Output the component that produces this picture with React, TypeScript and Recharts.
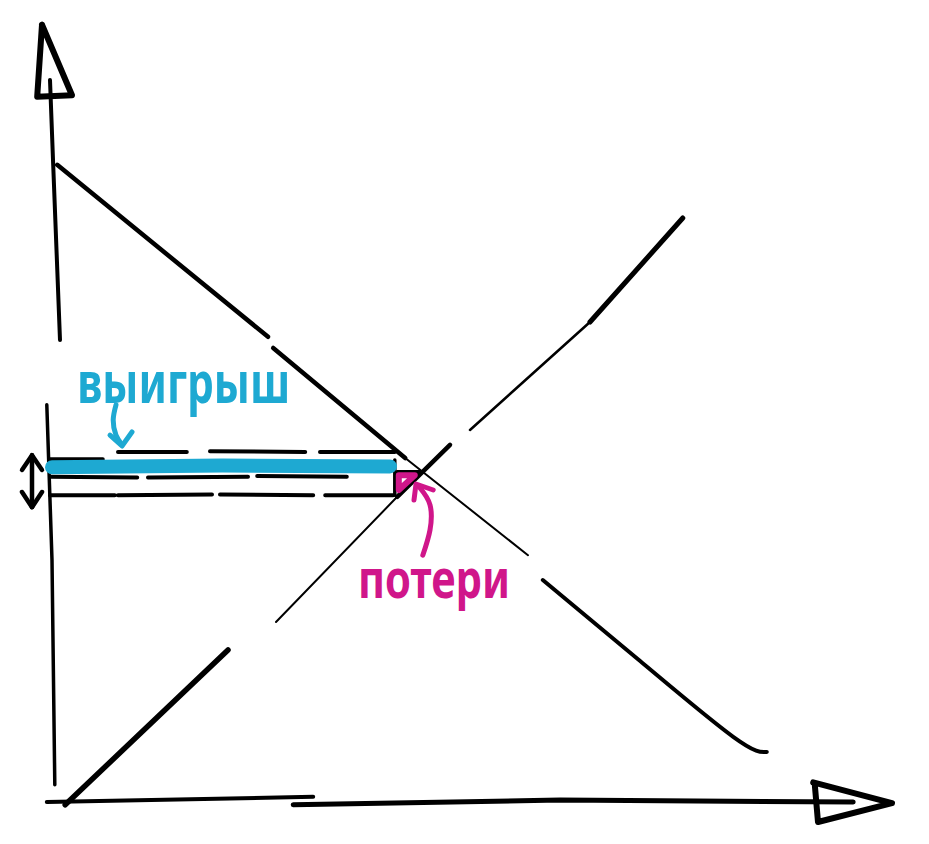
import { ComposedChart, Line, Scatter, XAxis, YAxis } from "recharts";

type Pair = [number, number | null];

// quantity (q) and price (p) units of the sketch; origin is where the axes meet
const yAxisUpper: Pair[] = [[-1.5, 90], [-1.1, 79.4], [-0.25, 57.5]];
const yAxisLower: Pair[] = [[-1.9, 49.4], [-1.25, 30], [-0.9, 1.9]];
const yArrow: Pair[] = [[-2.5, 96.9], [-3.1, 87.9], [1.25, 88.1], [-2.5, 96.9]];
const xAxisLeft: Pair[] = [[-1.9, -0.25], [31.4, 0.4]];
const xAxisRight: Pair[] = [[28.9, -0.6], [62.25, 0], [98.9, -0.25]];
const xArrow: Pair[] = [[93.9, 2.2], [103.75, -0.4], [94.5, -2.75], [94.1, 1.9]];

// demand, drawn in pieces like the pen did
const demandA: Pair[] = [[-0.6, 79.4], [25.75, 57.9]];
const demandB: Pair[] = [[26.4, 56.5], [42.9, 42.75]];
const demandC: Pair[] = [[42.9, 42.75], [58.25, 30.6]];
const demandD: Pair[] = [[60.1, 27.5], [72, 17.6], [83.9, 7.9], [88.1, 6]];

// supply
const supplyA: Pair[] = [[0.4, -0.6], [20.75, 18.75]];
const supplyB: Pair[] = [[26.75, 22.25], [41.9, 37.9]];
const supplyC: Pair[] = [[41.9, 37.9], [48.5, 44.4]];
const supplyD: Pair[] = [[51, 46.25], [66, 59.75]];
const supplyE: Pair[] = [[66, 59.75], [77.6, 72.75]];

// price lines (dashed by hand)
const priceHigh: Pair[] = [
  [-1.5, 42.6], [5.1, 42.6], [6, null],
  [7, 43.5], [15.6, 43.5], [17, null],
  [18.5, 43.6], [30.4, 43.5], [31, null],
  [32.25, 43.5], [41.6, 43.5],
];
const priceMid: Pair[] = [
  [-1.5, 40.4], [9.4, 40.3], [10, null],
  [10.75, 40.3], [23.25, 40.4], [24, null],
  [24.4, 40.5], [35.6, 40.4], [37, null],
  [41.9, 41], [45.1, 41],
];
const priceLow: Pair[] = [
  [-1.5, 38.1], [6.6, 38.1], [6.8, null],
  [7, 38.1], [18.75, 38.2], [19, null],
  [19.75, 38.2], [31.4, 38.1], [32, null],
  [32.9, 38.1], [41.4, 38.1],
];
const gainBand: Pair[] = [[-1.25, 41.6], [20, 41.8], [41, 41.7]];
const gainEdge: Pair[] = [[41.6, 42.5], [41.6, 38.1]];
const lossArea: Pair[] = [[42.1, 40.6], [44.1, 40.6], [42.1, 38.75], [42.1, 40.6]];

// double arrow on the price axis
const spread: Pair[] = [[-3.75, 43.1], [-3.75, 36.6]];
const spreadTop: Pair[] = [[-5, 41.25], [-3.75, 43.1], [1.25 - 3.75, 41.25]];
const spreadBottom: Pair[] = [[-5, 38.5], [-3.75, 36.6], [1.25 - 3.75, 38.5]];

// pointers to the labels
const gainStem: Pair[] = [[6.75, 49.4], [6.4, 47.5], [6.75, 45.6], [7.5, 44.4]];
const gainHead: Pair[] = [[6, 45.6], [7.5, 44.25], [8.75, 46]];
const lossStem: Pair[] = [[45.1, 30.6], [46, 33.75], [46, 36.9], [44.75, 39]];
const lossHead: Pair[] = [[46.4, 38.75], [44.25, 39.5], [44, 37.5]];

const labels = [
  { q: 1.9, p: 49.6, text: "выигрыш", color: "#1ea9d2", size: 58, len: 213 },
  { q: 37, p: 25.25, text: "потери", color: "#d0168a", size: 54, len: 152 },
];

const INK = "#000000";
const BLUE = "#1ea9d2";
const PINK = "#d0168a";

const strokes = [
  { d: yAxisUpper, w: 4, c: INK },
  { d: yAxisLower, w: 3.5, c: INK },
  { d: yArrow, w: 6, c: INK },
  { d: xAxisLeft, w: 4, c: INK },
  { d: xAxisRight, w: 5, c: INK },
  { d: xArrow, w: 6, c: INK },
  { d: demandA, w: 4.5, c: INK },
  { d: demandB, w: 4.5, c: INK },
  { d: demandC, w: 2, c: INK },
  { d: demandD, w: 4, c: INK, curve: "natural" },
  { d: supplyA, w: 5.5, c: INK },
  { d: supplyB, w: 2, c: INK },
  { d: supplyC, w: 4.5, c: INK },
  { d: supplyD, w: 2.5, c: INK },
  { d: supplyE, w: 5, c: INK },
  { d: priceHigh, w: 4, c: INK },
  { d: priceMid, w: 4, c: INK },
  { d: priceLow, w: 4, c: INK },
  { d: gainEdge, w: 3.5, c: INK },
  { d: gainBand, w: 14, c: BLUE },
  { d: lossArea, w: 6, c: PINK },
  { d: spread, w: 4.5, c: INK },
  { d: spreadTop, w: 4.5, c: INK },
  { d: spreadBottom, w: 4.5, c: INK },
  { d: gainStem, w: 5, c: BLUE, curve: "natural" },
  { d: gainHead, w: 5, c: BLUE },
  { d: lossStem, w: 5, c: PINK, curve: "natural" },
  { d: lossHead, w: 5, c: PINK },
];

const toRows = (pairs: Pair[]) => pairs.map(([q, p]) => ({ q, p }));

function LabelText(props: any) {
  const { cx, cy, payload } = props;
  return (
    <text
      x={cx}
      y={cy}
      fill={payload.color}
      fontSize={payload.size}
      fontFamily="'Noto Sans', sans-serif"
      fontWeight={700}
      textLength={payload.len}
      lengthAdjust="spacingAndGlyphs"
    >
      {payload.text}
    </text>
  );
}

export default function App() {
  return (
    <div style={{ position: "absolute", left: 0, top: 0, width: 929, height: 844, background: "#fff" }}>
      <ComposedChart width={929} height={844} margin={{ top: 0, right: 0, bottom: 0, left: 0 }}>
        <XAxis type="number" dataKey="q" domain={[-7.75, 108.375]} hide />
        <YAxis type="number" dataKey="p" domain={[-5.5, 100]} hide />
        {strokes.map((s, i) => (
          <Line
            key={i}
            data={toRows(s.d)}
            dataKey="p"
            type={(s.curve as any) || "linear"}
            stroke={s.c}
            strokeWidth={s.w}
            strokeLinecap="round"
            strokeLinejoin="round"
            dot={false}
            activeDot={false}
            isAnimationActive={false}
          />
        ))}
        <Scatter data={labels} dataKey="p" shape={LabelText} isAnimationActive={false} />
      </ComposedChart>
    </div>
  );
}
